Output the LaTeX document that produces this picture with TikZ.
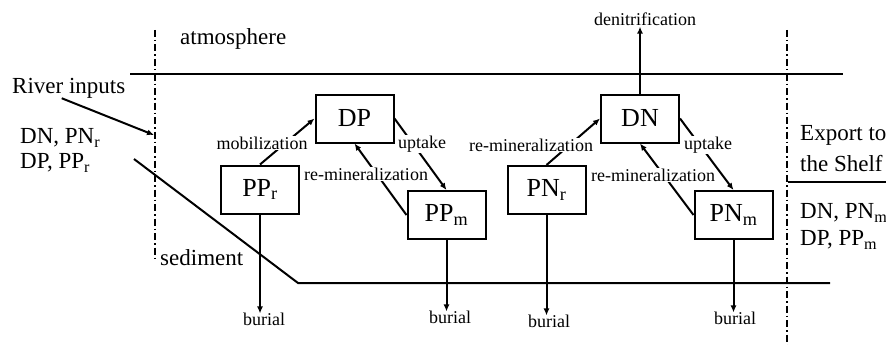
\documentclass[tikz,border=0pt]{standalone}
\usepackage{fontspec}
\setmainfont{Liberation Serif}
\usepackage{tikz}
\usetikzlibrary{arrows.meta}
\tikzstyle{chembox}=[draw, line width=2pt, minimum width=78pt, minimum height=48pt, inner sep=0pt, font=\fontsize{26}{28}\selectfont]
\tikzstyle{proc}=[fill=white, inner sep=1pt, font=\fontsize{18}{20}\selectfont]
\tikzstyle{region}=[inner sep=0pt, anchor=west, font=\fontsize{23}{25}\selectfont]
\tikzstyle{flux}=[line width=2pt, -{Latex[length=7pt,width=6pt]}]
\tikzstyle{bound}=[line width=2pt]
\tikzstyle{limit}=[line width=2pt, dash pattern=on 7pt off 3pt on 1.5pt off 3pt]

\begin{document}
\begin{tikzpicture}[x=1pt,y=-1pt]
	\useasboundingbox (0,0) rectangle (886,345);
	\draw[bound] (130,74) -- (843,74);
	\draw[bound] (134,159) -- (298,283) -- (830,283);
	\draw[bound] (788,182) -- (886,182);
	\draw[limit] (155,30) -- (155,258);
	\draw[limit] (787,30) -- (787,345);
	\node[region] (atm) at (180,39) {atmosphere};
	\node[region] (sed) at (160,258) {sediment};
	\node[region] (river) at (12,88) {River inputs};
	\node[region] (rivN) at (20,138) {DN, PN\textsubscript{r}};
	\node[region] (rivP) at (20,163) {DP, PP\textsubscript{r}};
	\node[region] (exp) at (800,135) {Export to};
	\node[region] (shelf) at (800,164) {the Shelf};
	\node[region] (expN) at (800,213) {DN, PN\textsubscript{m}};
	\node[region] (expP) at (800,240) {DP, PP\textsubscript{m}};
	\coordinate (inlet) at (154,135);
	\draw[flux] ([xshift=-7pt]river.south) -- (inlet);
	\node[chembox] (PPr) at (260,189.5) {PP\textsubscript{r}};
	\node[chembox] (DP) at (354.5,118.5) {DP};
	\node[chembox] (PPm) at (446.5,215) {PP\textsubscript{m}};
	\node[chembox] (PNr) at (546.5,190) {PN\textsubscript{r}};
	\node[chembox] (DN) at (640,118.5) {DN};
	\node[chembox] (PNm) at (733.5,215) {PN\textsubscript{m}};
	\draw[flux] (PPr.north) -- (DP.west);
	\draw[flux] (DP.east) -- (PPm.north);
	\draw[flux] (PPm.west) -- (DP.south);
	\draw[flux] (PNr.north) -- (DN.west);
	\draw[flux] (DN.east) -- (PNm.north);
	\draw[flux] (PNm.west) -- (DN.south);
	\node[proc] (mob) at (262,143) {mobilization};
	\node[proc] (upP) at (422,144) {uptake};
	\node[proc] (remP) at (366,174) {re-mineralization};
	\node[proc] (remN) at (531,145) {re-mineralization};
	\node[proc] (upN) at (708,145) {uptake};
	\node[proc] (remNm) at (653,175) {re-mineralization};
	\node[proc] (denit) at (645,19) {denitrification};
	\draw[flux] (DN.north) -- (DN.north |- denit.south);
	\node[proc] (bur1) at (264,319) {burial};
	\node[proc] (bur2) at (450,317) {burial};
	\node[proc] (bur3) at (549,321) {burial};
	\node[proc] (bur4) at (735,318) {burial};
	\draw[flux] (PPr.south) -- ([yshift=-2pt]PPr.south |- bur1.north);
	\draw[flux] (PPm.south) -- ([yshift=-2pt]PPm.south |- bur2.north);
	\draw[flux] (PNr.south) -- ([yshift=-2pt]PNr.south |- bur3.north);
	\draw[flux] (PNm.south) -- ([yshift=-2pt]PNm.south |- bur4.north);
\end{tikzpicture}
\end{document}
